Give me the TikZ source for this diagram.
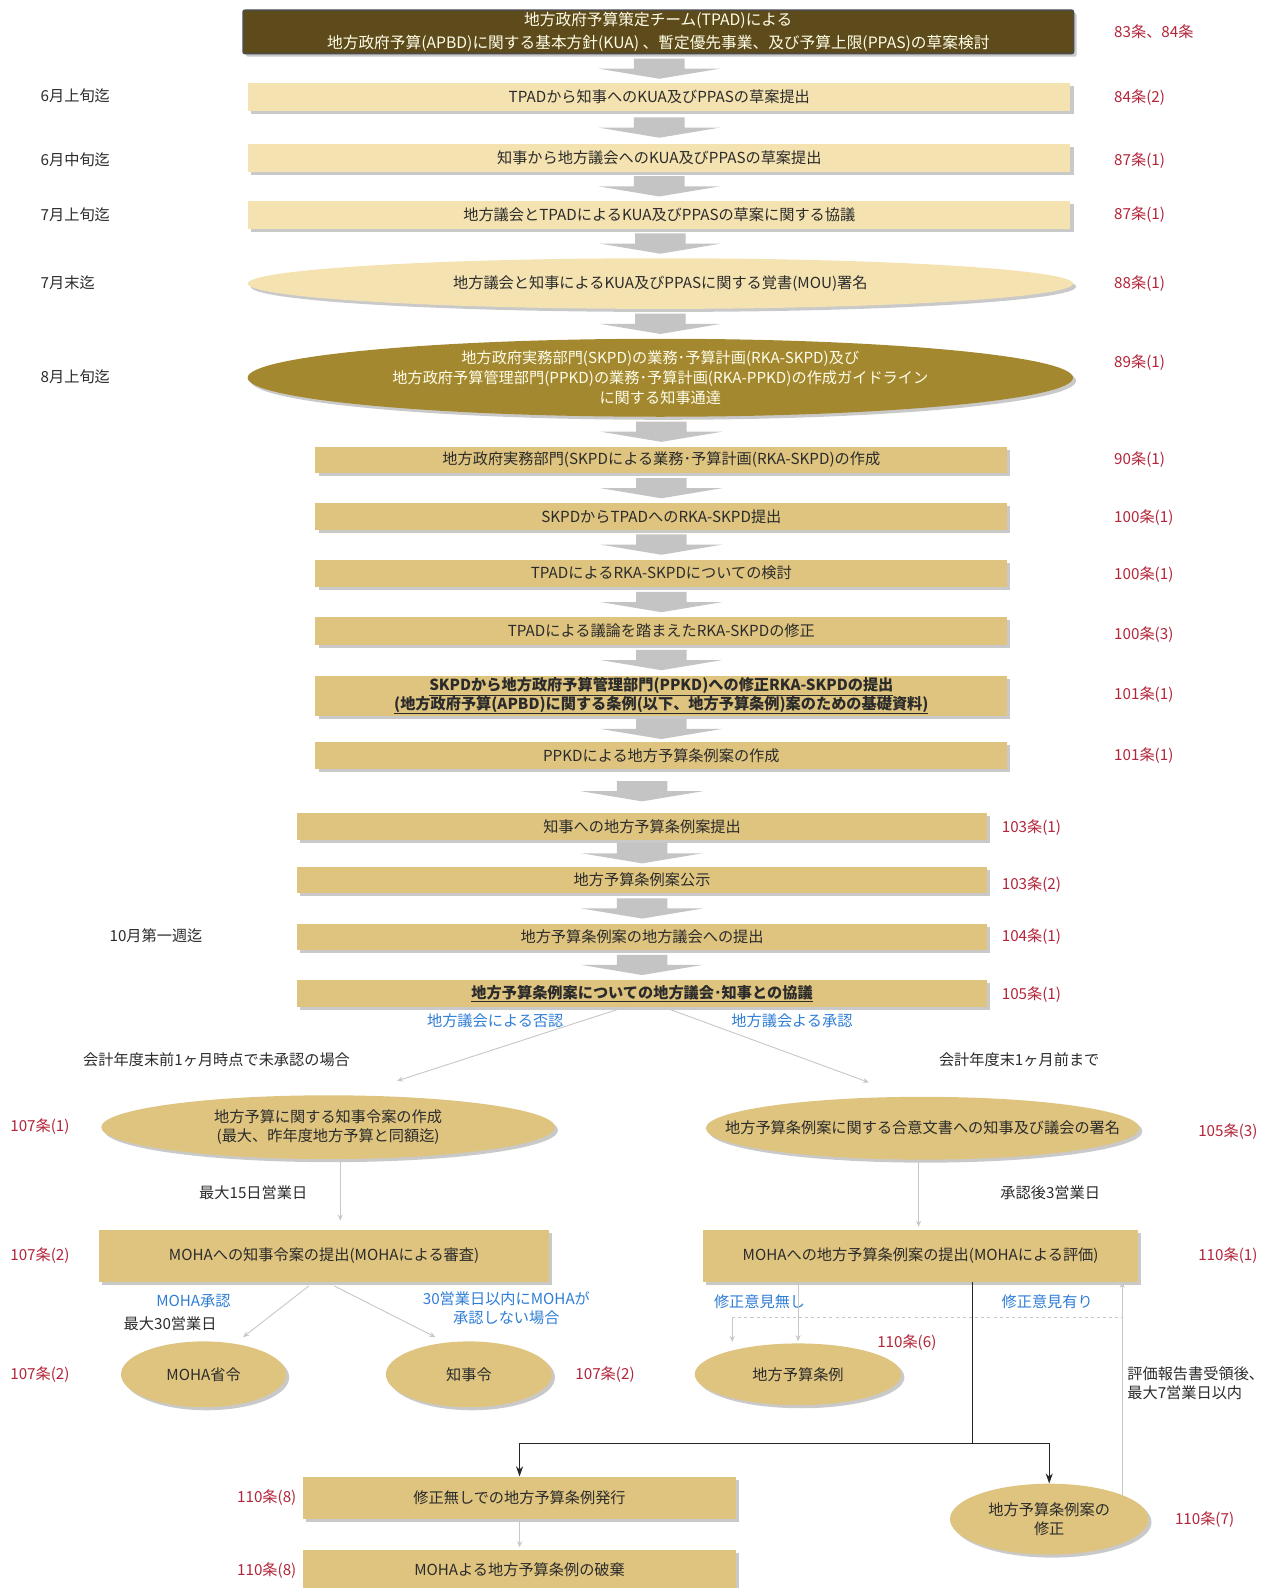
\documentclass[tikz,border=0pt]{standalone}
\usepackage{fontspec}
\setmainfont{Noto Sans CJK JP}
\usetikzlibrary{shapes.geometric,shadows,arrows.meta,calc}
\definecolor{darkbox}{HTML}{5E4B1C}
\definecolor{cream}{HTML}{F4E2B0}
\definecolor{olivegold}{HTML}{A3882F}
\definecolor{tanbox}{HTML}{DEC47F}
\definecolor{lawred}{HTML}{B3253A}
\definecolor{lblue}{HTML}{2F7ED6}
\definecolor{agray}{HTML}{C4C4C4}
\definecolor{lgray}{HTML}{C8C8C8}
\definecolor{txt}{HTML}{2B2B2B}
\newcommand\fmain{\fontsize{15}{19}\selectfont}
\newcommand\flab{\fontsize{15}{19}\selectfont}
\tikzset{
  shad/.style={drop shadow={shadow xshift=3pt,shadow yshift=-3pt,opacity=0.35,fill=black!60}},
  boxbase/.style={rectangle, shad, inner sep=0pt, align=center, text=txt, font=\fmain},
  darkb/.style={boxbase, fill=darkbox, draw=black!70, line width=1.5pt, rounded corners=2pt, text=white!90!yellow, font=\fontsize{15.5}{23}\selectfont},
  creamb/.style={boxbase, fill=cream},
  tanb/.style={boxbase, fill=tanbox},
  ellbase/.style={ellipse, shad, inner xsep=-150pt, inner ysep=-20pt, align=center, text=txt, font=\fmain},
  ellc/.style={ellbase, fill=cream},
  ellt/.style={ellbase, fill=tanbox},
  ello/.style={ellbase, text=white!92!yellow, font=\fontsize{15}{19.5}\selectfont, fill=olivegold},
  law/.style={anchor=west, inner sep=0pt, text=lawred, font=\flab},
  when/.style={anchor=west, inner sep=0pt, text=txt, font=\flab},
  blue/.style={inner sep=0pt, text=lblue, font=\flab, align=center},
  note/.style={inner sep=0pt, text=txt, font=\flab, align=left},
  thinarrow/.style={draw=lgray, line width=0.9pt, -{Stealth[length=6pt,width=5pt]}},
  blackline/.style={draw=black!85, line width=1pt},
  blackarrow/.style={draw=black!85, line width=1pt, -{Stealth[length=10pt,width=7pt]}},
}
\newcommand\blockarrow[2]{%
  \path ($(#1.south)!0.5!(#2.north)$) coordinate (ba);
  \path (ba -| #2.north) coordinate (bb);
  \fill[agray] ([shift={(-25,-10)}]bb) -- ++(50,0) -- ++(0,10) -- ++(35,0) -- ++(-60,10) -- ++(-60,-10) -- ++(35,0) -- cycle;}
\begin{document}
\begin{tikzpicture}[x=1pt,y=-1pt]
\useasboundingbox[fill=white] (0,0) rectangle (1255,1568);

% main column
\node[darkb, minimum width=820, minimum height=43] (b1) at (650,31.5) {地方政府予算策定チーム(TPAD)による\\地方政府予算(APBD)に関する基本方針(KUA) 、暫定優先事業、及び予算上限(PPAS)の草案検討};
\node[creamb, minimum width=812, minimum height=28] (b2) at (651,96) {TPADから知事へのKUA及びPPASの草案提出};
\node[creamb, minimum width=812, minimum height=28] (b3) at (651,156) {知事から地方議会へのKUA及びPPASの草案提出};
\node[creamb, minimum width=812, minimum height=28] (b4) at (651,212) {地方議会とTPADによるKUA及びPPASの草案に関する協議};
\node[ellc, minimum width=815, minimum height=50] (e5) at (652,280) {地方議会と知事によるKUA及びPPASに関する覚書(MOU)署名};
\node[ello, minimum width=815, minimum height=77] (e6) at (652,373) {地方政府実務部門(SKPD)の業務･予算計画(RKA-SKPD)及び\\地方政府予算管理部門(PPKD)の業務･予算計画(RKA-PPKD)の作成ガイドライン\\に関する知事通達};
\node[tanb, minimum width=683, minimum height=26] (b7) at (653,454) {地方政府実務部門(SKPDによる業務･予算計画(RKA-SKPD)の作成};
\node[tanb, minimum width=683, minimum height=26] (b8) at (653,510) {SKPDからTPADへのRKA-SKPD提出};
\node[tanb, minimum width=683, minimum height=27] (b9) at (653,566) {TPADによるRKA-SKPDについての検討};
\node[tanb, minimum width=683, minimum height=27] (b10) at (653,623) {TPADによる議論を踏まえたRKA-SKPDの修正};
\node[tanb, minimum width=683, minimum height=40, font=\bfseries\fontsize{15}{18.5}\selectfont] (b11) at (653,687) {\underline{SKPDから地方政府予算管理部門(PPKD)への修正RKA-SKPDの提出}\\\underline{(地方政府予算(APBD)に関する条例(以下、地方予算条例)案のための基礎資料)}};
\node[tanb, minimum width=683, minimum height=27] (b12) at (653,746) {PPKDによる地方予算条例案の作成};
\node[tanb, minimum width=682, minimum height=26] (b13) at (634,816) {知事への地方予算条例案提出};
\node[tanb, minimum width=682, minimum height=26] (b14) at (634,869) {地方予算条例案公示};
\node[tanb, minimum width=682, minimum height=26] (b15) at (634,925) {地方予算条例案の地方議会への提出};
\node[tanb, minimum width=682, minimum height=27, font=\bfseries\fmain] (b16) at (634,981) {\underline{地方予算条例案についての地方議会･知事との協議}};

\blockarrow{b1}{b2}
\blockarrow{b2}{b3}
\blockarrow{b3}{b4}
\blockarrow{b4}{e5}
\blockarrow{e5}{e6}
\blockarrow{e6}{b7}
\blockarrow{b7}{b8}
\blockarrow{b8}{b9}
\blockarrow{b9}{b10}
\blockarrow{b10}{b11}
\blockarrow{b11}{b12}
\blockarrow{b12}{b13}
\blockarrow{b13}{b14}
\blockarrow{b14}{b15}
\blockarrow{b15}{b16}

% law references, top part
\node[law] (l1) at (1100,31) {83条、84条};
\node[law] (l2) at (1100,96) {84条(2)};
\node[law] (l3) at (1100,159) {87条(1)};
\node[law] (l4) at (1100,212) {87条(1)};
\node[law] (l5) at (1100,280) {88条(1)};
\node[law] (l6) at (1100,358) {89条(1)};
\node[law] (l7) at (1100,454) {90条(1)};
\node[law] (l8) at (1100,511) {100条(1)};
\node[law] (l9) at (1100,567) {100条(1)};
\node[law] (l10) at (1100,627) {100条(3)};
\node[law] (l11) at (1100,686) {101条(1)};
\node[law] (l12) at (1100,746) {101条(1)};
\node[law] (l13) at (989,817) {103条(1)};
\node[law] (l14) at (989,873) {103条(2)};
\node[law] (l15) at (989,925) {104条(1)};
\node[law] (l16) at (989,982) {105条(1)};

% timing
\node[when] (t1) at (40,95) {6月上旬迄};
\node[when] (t2) at (40,158) {6月中旬迄};
\node[when] (t3) at (40,212) {7月上旬迄};
\node[when] (t4) at (40,279) {7月末迄};
\node[when] (t5) at (40,372) {8月上旬迄};
\node[when] (t6) at (108,924) {10月第一週迄};

% branch
\node[blue] (nb1) at (489,1008) {地方議会による否認};
\node[blue] (nb2) at (782,1008) {地方議会よる承認};
\node[note, anchor=west] (nt1) at (82,1046) {会計年度末前1ヶ月時点で未承認の場合};
\node[note, anchor=west] (nt2) at (927,1046) {会計年度末1ヶ月前まで};

\node[ellt, minimum width=448, minimum height=63] (L1) at (324,1113) {地方予算に関する知事令案の作成\\(最大、昨年度地方予算と同額迄)};
\node[ellt, minimum width=428, minimum height=62] (R1) at (911,1114) {地方予算条例案に関する合意文書への知事及び議会の署名};
\node[law] (l17) at (10,1112) {107条(1)};
\node[law] (l18) at (1183,1117) {105条(3)};

\draw[thinarrow] ([xshift=-18]b16.south) -- ($(L1.north)+(68,-14)$);
\draw[thinarrow] ([xshift=22]b16.south) -- ($(R1.north)+(-53,-14)$);

\node[tanb, minimum width=445, minimum height=51] (L2) at (320,1240) {MOHAへの知事令案の提出(MOHAによる審査)};
\node[tanb, minimum width=430, minimum height=51] (R2) at (909,1240) {MOHAへの地方予算条例案の提出(MOHAによる評価)};
\node[law] (l19) at (10,1240) {107条(2)};
\node[law] (l20) at (1183,1240) {110条(1)};

\coordinate (l1s) at ([xshift=12]L1.south);
\draw[thinarrow, shorten >=9pt] (l1s) -- (l1s |- L2.north);
\coordinate (r1s) at ([xshift=-4]R1.south);
\draw[thinarrow, shorten >=3pt] (r1s) -- (r1s |- R2.north);
\node[note] (nd1) at (250,1178) {最大15日営業日};
\node[note] (nd2) at (1037,1178) {承認後3営業日};

\node[ellt, minimum width=163, minimum height=65] (M1) at (201,1357) {MOHA省令};
\node[ellt, minimum width=164, minimum height=65] (M2) at (463,1357) {知事令};
\node[law] (l21) at (10,1357) {107条(2)};
\node[law] (l22) at (568,1357) {107条(2)};
\draw[thinarrow] ([xshift=-15,yshift=-4]L2.south) -- ($(M1.north)+(39,-4)$);
\draw[thinarrow] ([xshift=10,yshift=-4]L2.south) -- ($(M2.north)+(-33,-4)$);
\node[blue] (nb3) at (191,1285) {MOHA承認};
\node[note] (nd3) at (168,1307) {最大30営業日};
\node[blue] (nb4) at (500,1292) {30営業日以内にMOHAが\\承認しない場合};

\node[ellt, minimum width=204, minimum height=61] (M3) at (788,1357) {地方予算条例};
\node[law] (l23) at (866,1326) {110条(6)};
\node[blue] (nb5) at (750,1285) {修正意見無し};
\node[blue] (nb6) at (1034,1285) {修正意見有り};

\node[ellt, minimum width=196, minimum height=70] (E) at (1036,1500) {地方予算条例案の\\修正};
\node[law] (l24) at (1160,1500) {110条(7)};
\node[note, anchor=west] (nd4) at (1113,1366) {評価報告書受領後、\\最大7営業日以内};

\node[tanb, minimum width=427, minimum height=42] (B1) at (513,1479) {修正無しでの地方予算条例発行};
\node[tanb, minimum width=427, minimum height=40] (B2) at (513,1550) {MOHAよる地方予算条例の破棄};
\node[law] (l25) at (234,1479) {110条(8)};
\node[law] (l26) at (234,1551) {110条(8)};

% right-side connectors
\coordinate (r2a) at ([xshift=-121]R2.south);
\draw[thinarrow, shorten >=2pt] (r2a) -- (r2a |- M3.north);
\coordinate (dashL) at ($(r2a)+(-65,35)$);
\coordinate (rbot) at ($(E.center)+(72,-23)$);
\draw[lgray, line width=0.9pt, dashed] (dashL) -- (rbot |- dashL);
\draw[thinarrow] (dashL) -- ($(M3.center)+(-65,-32)$);
\draw[thinarrow] (rbot) -- (rbot |- R2.south);

\coordinate (bk) at ([xshift=51]R2.south);
\coordinate (bj) at ($(bk)+(0,160)$);
\draw[blackline] (bk) -- (bj);
\draw[blackarrow] (bj) -| (B1.north);
\draw[blackarrow] (bj) -| (E.north);
\draw[thinarrow, shorten <=2pt, shorten >=2pt] (B1.south) -- (B2.north);
\end{tikzpicture}
\end{document}
